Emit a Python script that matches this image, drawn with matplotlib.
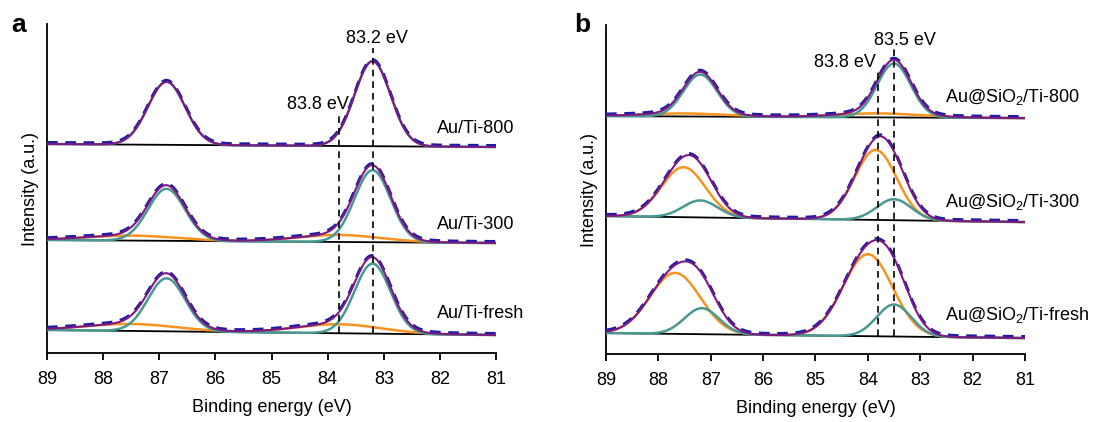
import numpy as np
import matplotlib
matplotlib.use('Agg')
import matplotlib.pyplot as plt

plt.rcParams['font.family'] = ['Liberation Sans', 'DejaVu Sans']
plt.rcParams['mathtext.default'] = 'regular'

# binding energy range and ticks
be_ticks = [89, 88, 87, 86, 85, 84, 83, 82, 81]

# fitted peak parameters: (centre eV, height, sigma eV)
# panel a, spectra top -> bottom
a_names = ['Au/Ti-800', 'Au/Ti-300', 'Au/Ti-fresh']
a_bg_left = [209, 113, 23]
a_bg_right = [206, 110, 18]
a_teal = [[(83.2, 85, 0.32), (86.87, 63, 0.33)],
          [(83.2, 72, 0.32), (86.87, 52, 0.33)],
          [(83.2, 70, 0.32), (86.87, 53, 0.33)]]
a_orange = [[],
            [(83.8, 7, 0.75), (87.5, 5, 0.8)],
            [(83.8, 9, 0.75), (87.5, 7, 0.8)]]

# panel b
b_names = ['Au@SiO$_2$/Ti-800', 'Au@SiO$_2$/Ti-300', 'Au@SiO$_2$/Ti-fresh']
b_bg_left = [238, 138, 21]
b_bg_right = [236, 132, 16]
b_teal = [[(83.5, 54, 0.32), (87.2, 42, 0.32)],
          [(83.5, 21, 0.33), (87.2, 17, 0.33)],
          [(83.5, 32, 0.33), (87.17, 26, 0.33)]]
b_orange = [[(83.8, 4, 0.8), (87.5, 3, 0.8)],
            [(83.85, 70, 0.4), (87.52, 50, 0.42)],
            [(84.0, 82, 0.47), (87.68, 61, 0.48)]]

purple = '#7d1a82'
teal = '#4a9893'
orange = '#f7931e'
navy = '#1c1ca6'


def comp(x, peaks):
    y = np.zeros_like(x)
    for c, h, s in peaks:
        y = y + h*np.exp(-(x-c)**2/(2*s*s))
    return y


def draw_panel(ax, names, bg_l, bg_r, teals, oranges):
    x = np.linspace(89, 81, 800)
    for i in range(len(names)):
        bg = bg_l[i] + (bg_r[i]-bg_l[i])*(89-x)/8.0
        t = comp(x, teals[i])
        o = comp(x, oranges[i])
        ax.plot(x, bg, color='k', lw=1.3, zorder=2)
        if len(oranges[i]) > 0:
            ax.plot(x, bg+o, color=orange, lw=1.8, zorder=3)
        ax.plot(x, bg+t, color=teal, lw=1.8, zorder=3)
        ax.plot(x, bg+t+o+1.5, color=navy, lw=2.2, ls=(0, (3.5, 2.5)), zorder=4)
        ax.plot(x, bg+t+o, color=purple, lw=1.5, zorder=5)
    ax.set_xlim(89, 81)
    ax.set_ylim(0, 329)
    ax.set_xticks(be_ticks)
    ax.set_xticklabels([str(v) for v in be_ticks], fontsize=13)
    ax.set_yticks([])
    for s in ['top', 'right']:
        ax.spines[s].set_visible(False)
    for s in ['left', 'bottom']:
        ax.spines[s].set_linewidth(1.3)
    ax.tick_params(axis='x', direction='out', length=5, width=1.3, pad=8)
    ax.set_xlabel('Binding energy (eV)', fontsize=13, labelpad=8)
    ax.set_ylabel('Intensity (a.u.)', fontsize=13, labelpad=6)


fig = plt.figure(figsize=(11.18, 4.22), dpi=100)
ax1 = fig.add_axes([0.042, 0.1635, 0.4017, 0.7795])
ax2 = fig.add_axes([0.542, 0.161, 0.3748, 0.7795])

draw_panel(ax1, a_names, a_bg_left, a_bg_right, a_teal, a_orange)
draw_panel(ax2, b_names, b_bg_left, b_bg_right, b_teal, b_orange)

# panel a annotations
ax1.plot([83.8, 83.8], [20, 238], color='k', lw=1.2, ls=(0, (4, 3)), zorder=6)
ax1.plot([83.2, 83.2], [20, 305], color='k', lw=1.2, ls=(0, (4, 3)), zorder=6)
ax1.text(83.12, 315, '83.2 eV', fontsize=13, ha='center', va='center')
ax1.text(83.63, 249, '83.8 eV', fontsize=13, ha='right', va='center')
for name, yy in zip(a_names, [225, 129, 40]):
    ax1.text(82.05, yy, name, fontsize=13, ha='left', va='center', clip_on=False)

# panel b annotations
ax2.plot([83.8, 83.8], [18, 284], color='k', lw=1.2, ls=(0, (4, 3)), zorder=6)
ax2.plot([83.5, 83.5], [18, 306], color='k', lw=1.2, ls=(0, (4, 3)), zorder=6)
ax2.text(83.29, 314, '83.5 eV', fontsize=13, ha='center', va='center')
ax2.text(83.85, 292, '83.8 eV', fontsize=13, ha='right', va='center')
for name, yy in zip(b_names, [257, 152, 39]):
    ax2.text(82.53, yy, name, fontsize=13, ha='left', va='center', clip_on=False)

fig.text(0.010, 0.924, 'a', fontsize=19, fontweight='bold', ha='left', va='baseline')
fig.text(0.514, 0.924, 'b', fontsize=19, fontweight='bold', ha='left', va='baseline')

fig.savefig('out.png', dpi=100)
